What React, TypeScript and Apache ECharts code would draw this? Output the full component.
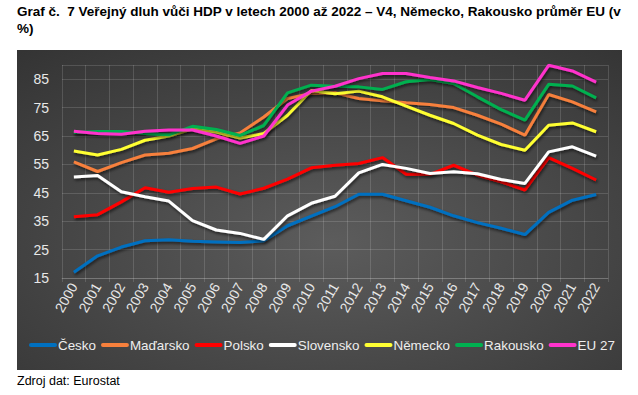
import React, { useEffect, useRef } from "react";
import * as echarts from "echarts";

const years = ["2000","2001","2002","2003","2004","2005","2006","2007","2008","2009","2010","2011","2012","2013","2014","2015","2016","2017","2018","2019","2020","2021","2022"];

const cesko = [17.0, 22.8, 25.9, 28.1, 28.5, 27.9, 27.7, 27.5, 28.1, 33.4, 36.8, 40.1, 44.5, 44.5, 42.2, 39.9, 36.9, 34.5, 32.5, 30.3, 38.1, 42.4, 44.4];
const madarsko = [55.9, 52.5, 55.6, 58.3, 58.9, 60.6, 64.0, 66.1, 71.7, 78.2, 80.0, 80.2, 78.2, 77.4, 76.7, 76.1, 75.0, 72.3, 69.2, 65.3, 79.6, 77.0, 73.5];
const polsko = [36.6, 37.3, 41.8, 46.8, 45.2, 46.5, 47.0, 44.6, 46.6, 49.8, 53.8, 54.7, 55.3, 57.4, 51.5, 51.5, 54.7, 51.2, 48.9, 46.0, 57.4, 53.6, 49.5];
const slovensko = [50.6, 51.1, 45.4, 43.6, 42.1, 35.2, 31.9, 30.7, 28.6, 36.9, 41.3, 43.8, 52.0, 55.0, 53.6, 51.8, 52.4, 51.7, 49.7, 48.3, 59.4, 61.2, 57.9];
const nemecko = [59.7, 58.3, 60.3, 63.5, 65.0, 67.5, 66.4, 64.3, 65.9, 72.3, 81.0, 79.9, 80.8, 78.8, 75.5, 72.3, 69.4, 65.3, 62.0, 60.0, 68.8, 69.6, 66.5];
const rakousko = [66.2, 66.6, 66.6, 65.9, 65.4, 68.4, 67.3, 65.2, 68.7, 80.2, 82.9, 82.5, 82.3, 81.4, 84.1, 84.9, 83.5, 78.8, 74.3, 70.6, 83.2, 82.6, 78.4];
const eu27 = [66.7, 65.9, 65.6, 66.7, 67.1, 67.1, 65.0, 62.4, 65.0, 75.9, 80.8, 82.5, 85.2, 87.0, 87.0, 85.6, 84.4, 82.1, 80.0, 77.6, 89.9, 87.9, 84.0];

const seriesNames = ["Česko", "Maďarsko", "Polsko", "Slovensko", "Německo", "Rakousko", "EU 27"];
const seriesData = [cesko, madarsko, polsko, slovensko, nemecko, rakousko, eu27];
const seriesColors = ["#0070C0", "#F7803C", "#FF0000", "#FFFFFF", "#FFFF33", "#00B050", "#FF33CC"];

const titleText = "Graf č.  7 Veřejný dluh vůči HDP v letech 2000 až 2022 – V4, Německo, Rakousko průměr EU (v\n%)";
const sourceText = "Zdroj dat: Eurostat";

const FONT = "'Liberation Sans', Arial, sans-serif";

function measure(text: string, font: string): number {
  const c = document.createElement("canvas").getContext("2d")!;
  c.font = font;
  return c.measureText(text).width;
}

export default function App() {
  const ref = useRef<HTMLDivElement>(null);
  useEffect(() => {
    document.body.style.margin = "0";
    const chart = echarts.init(ref.current!, null, { renderer: "svg" });
    const gridColor = "rgba(255,255,255,0.14)";

    // custom legend layout
    const legendFont = `13.4px ${FONT}`;
    const legendEls: any[] = [];
    let lx = 29;
    const ly = 345;
    seriesNames.forEach((name, i) => {
      legendEls.push({
        type: "rect",
        shape: { x: lx, y: ly - 2, width: 28, height: 4, r: 2 },
        style: { fill: seriesColors[i] },
        z: 10,
      });
      legendEls.push({
        type: "text",
        x: lx + 29,
        y: ly,
        style: { text: name, font: legendFont, fill: "#eeeeee", verticalAlign: "middle", align: "left" },
        z: 10,
      });
      lx += 28 + 1 + measure(name, legendFont) + 5;
    });

    chart.setOption({
      animation: false,
      backgroundColor: "#ffffff",
      title: {
        text: titleText,
        left: 17,
        top: 3,
        padding: 0,
        textStyle: { fontFamily: FONT, fontSize: 13.5, fontWeight: "bold", color: "#000", lineHeight: 17 },
      },
      graphic: [
        {
          type: "rect",
          z: -10,
          shape: { x: 17, y: 50, width: 605, height: 320 },
          style: {
            fill: new echarts.graphic.RadialGradient(0.52, 0.6, 1.1, [
              { offset: 0, color: "#5c5c5c" },
              { offset: 1, color: "#242424" },
            ]),
          },
        },
        {
          type: "text",
          left: 17,
          top: 374,
          style: { text: sourceText, font: `12.5px ${FONT}`, fill: "#000" },
        },
        ...legendEls,
      ],
      grid: { left: 62, right: 30, top: 65, bottom: 117 },
      xAxis: {
        type: "category",
        data: years,
        boundaryGap: true,
        axisLine: { lineStyle: { color: gridColor } },
        axisTick: { show: true, length: 4, lineStyle: { color: gridColor } },
        splitLine: { show: true, lineStyle: { color: gridColor, width: 1 } },
        axisLabel: { rotate: 60, fontFamily: FONT, fontSize: 14, color: "#e8e8e8", margin: 6, interval: 0 },
      },
      yAxis: {
        type: "value",
        min: 15,
        max: 90,
        interval: 10,
        axisLine: { show: false },
        axisTick: { show: false },
        splitLine: { show: true, lineStyle: { color: gridColor, width: 1 } },
        axisLabel: { fontFamily: FONT, fontSize: 14, color: "#e8e8e8", margin: 13, showMaxLabel: false },
      },
      series: seriesNames.map((name, i) => ({
        name,
        type: "line",
        data: seriesData[i],
        symbol: "none",
        color: seriesColors[i],
        lineStyle: {
          width: 3,
          color: seriesColors[i],
          shadowColor: "rgba(0,0,0,0.6)",
          shadowBlur: 3,
          shadowOffsetX: 1,
          shadowOffsetY: 2,
        },
      })),
    });
    return () => chart.dispose();
  }, []);
  return <div ref={ref} style={{ width: 638, height: 395 }} />;
}
